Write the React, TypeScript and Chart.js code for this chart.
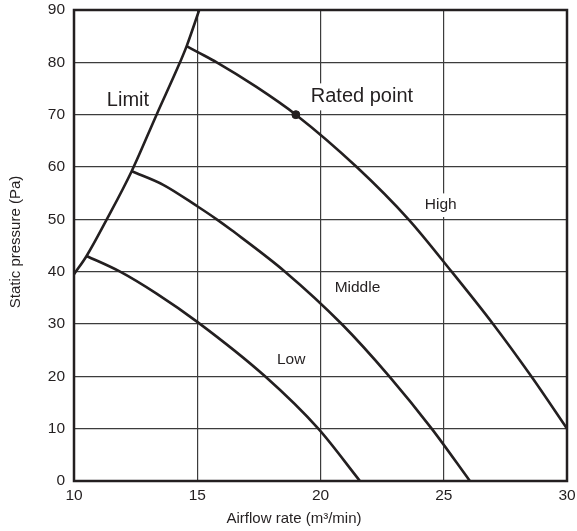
import React, { useEffect, useRef } from "react";
import { Chart, registerables } from "chart.js";

Chart.register(...registerables);

const xTicks = [10, 15, 20, 25, 30];
const yTicks = [0, 10, 20, 30, 40, 50, 60, 70, 80, 90];

const limitX = [10, 10.51, 11.33, 12.34, 13.35, 14.3, 14.57, 15.08];
const limitY = [39.5, 43, 50, 59.2, 70, 80, 83.1, 90];

const highX = [14.57, 15.0, 15.79, 17.4, 19.0, 21.47, 23.57, 25.32, 27.0, 28.55, 30];
const highY = [83.1, 82.0, 80, 75.3, 70, 60, 50, 40, 30, 20, 10];

const middleX = [12.34, 13.62, 15.0, 15.79, 16.4, 18.56, 20.86, 22.79, 24.51, 26.06];
const middleY = [59.2, 56.6, 52.5, 50, 47.9, 40, 30, 20, 10, 0];

const lowX = [10.51, 11.87, 13.35, 15.0, 17.75, 19.91, 21.6];
const lowY = [43, 40, 35.8, 30.4, 20, 10, 0];

const ratedX = [19.0];
const ratedY = [70];

const labelTexts = ["Limit", "Rated point", "High", "Middle", "Low"];
const labelX = [12.19, 21.68, 24.88, 21.5, 18.81];
const labelY = [72.8, 73.4, 52.7, 36.9, 23.2];
const labelSizes = [20, 20, 15.5, 15.5, 15.5];

const xTitle = "Airflow rate (m\u00b3/min)";
const yTitle = "Static pressure (Pa)";

const FONT = "'Liberation Sans', Arial, Helvetica, sans-serif";
const INK = "#231f20";

const toPts = (xs: number[], ys: number[]) => xs.map((x, i) => ({ x, y: ys[i] }));

export default function App() {
  const ref = useRef<HTMLCanvasElement>(null);

  useEffect(() => {
    if (!ref.current) return;

    const labelsPlugin = {
      id: "curveLabels",
      beforeDatasetsDraw(chart: any) {
        const ctx = chart.ctx;
        const xs = chart.scales.x;
        const ys = chart.scales.y;
        ctx.save();
        labelTexts.forEach((t, i) => {
          const px = xs.getPixelForValue(labelX[i]);
          const py = ys.getPixelForValue(labelY[i]);
          ctx.font = `${labelSizes[i]}px ${FONT}`;
          const w = ctx.measureText(t).width;
          const h = labelSizes[i] * 0.75;
          ctx.fillStyle = "#ffffff";
          ctx.fillRect(px - w / 2 - 3, py - h / 2 - 6, w + 6, h + 12);
          ctx.fillStyle = INK;
          ctx.textAlign = "center";
          ctx.textBaseline = "middle";
          ctx.fillText(t, px, py);
        });
        ctx.restore();
      },
      afterDraw(chart: any) {
        const ctx = chart.ctx;
        const a = chart.chartArea;
        ctx.save();
        ctx.strokeStyle = INK;
        ctx.lineWidth = 2.5;
        ctx.strokeRect(a.left, a.top, a.right - a.left, a.bottom - a.top);
        ctx.fillStyle = INK;
        ctx.font = `15px ${FONT}`;
        ctx.textAlign = "center";
        ctx.textBaseline = "middle";
        ctx.fillText(xTitle, 294, 519);
        ctx.translate(16, 242);
        ctx.rotate(-Math.PI / 2);
        ctx.fillText(yTitle, 0, 0);
        ctx.restore();
      },
    };

    const lineDs = (xs: number[], ys: number[]) => ({
      type: "line" as const,
      data: toPts(xs, ys),
      borderColor: INK,
      borderWidth: 2.6,
      pointRadius: 0,
      cubicInterpolationMode: "monotone" as const,
      fill: false,
    });

    const chart = new Chart(ref.current, {
      type: "line",
      data: {
        datasets: [
          lineDs(limitX, limitY),
          lineDs(highX, highY),
          lineDs(middleX, middleY),
          lineDs(lowX, lowY),
          {
            type: "scatter" as const,
            data: toPts(ratedX, ratedY),
            backgroundColor: INK,
            borderColor: INK,
            pointRadius: 4,
          } as any,
        ],
      },
      options: {
        responsive: false,
        animation: false,
        devicePixelRatio: 1,
        layout: { padding: { left: 0, top: 10, right: 10, bottom: 4 } },
        plugins: { legend: { display: false }, tooltip: { enabled: false } },
        scales: {
          x: {
            type: "linear",
            min: 10,
            max: 30,
            afterBuildTicks: (s: any) => {
              s.ticks = xTicks.map((v) => ({ value: v }));
            },
            afterFit: (s: any) => {
              s.height = 46;
              s.paddingLeft = 0;
              s.paddingRight = 0;
            },
            grid: { color: "#3c3c3c", lineWidth: 1.2, drawTicks: false },
            border: { display: false },
            ticks: {
              padding: 5,
              color: INK,
              font: { family: FONT, size: 15.5 },
              maxRotation: 0,
            },
          },
          y: {
            type: "linear",
            min: 0,
            max: 90,
            afterBuildTicks: (s: any) => {
              s.ticks = yTicks.map((v) => ({ value: v }));
            },
            afterFit: (s: any) => {
              s.width = 74;
              s.paddingTop = 0;
              s.paddingBottom = 0;
            },
            grid: { color: "#3c3c3c", lineWidth: 1.2, drawTicks: false },
            border: { display: false },
            ticks: {
              padding: 9,
              color: INK,
              font: { family: FONT, size: 15.5 },
            },
          },
        },
      },
      plugins: [labelsPlugin],
    });

    return () => chart.destroy();
  }, []);

  return (
    <div style={{ position: "fixed", left: 0, top: 0, width: 577, height: 531, background: "#fff" }}>
      <canvas ref={ref} width={577} height={531} style={{ width: 577, height: 531, display: "block" }} />
    </div>
  );
}
